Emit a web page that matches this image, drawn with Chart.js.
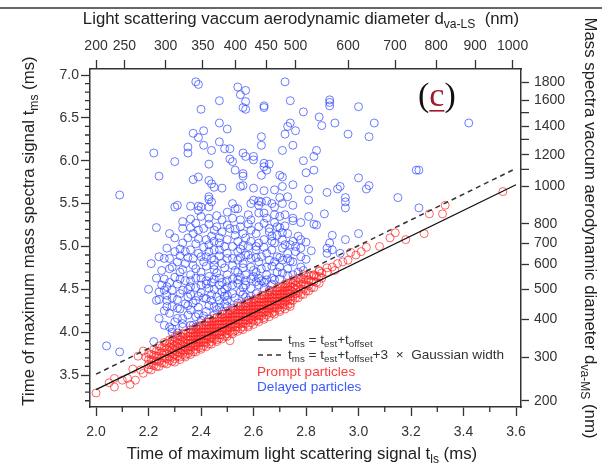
<!DOCTYPE html>
<html>
<head>
<meta charset="utf-8">
<title>t_ms vs t_ls</title>
<script src="https://cdn.jsdelivr.net/npm/chart.js@4.4.1/dist/chart.umd.min.js"></script>
<style>
  html, body { margin: 0; padding: 0; background: #fff; }
  canvas { display: block; }
</style>
</head>
<body>
<canvas id="chart" width="602" height="465"></canvas>
<script>
// bottom / left axes (ms)
const xMajor = [2.0, 2.2, 2.4, 2.6, 2.8, 3.0, 3.2, 3.4, 3.6];
const xMinor = [2.1, 2.3, 2.5, 2.7, 2.9, 3.1, 3.3, 3.5];
const yMajor = [3.5, 4.0, 4.5, 5.0, 5.5, 6.0, 6.5, 7.0];
const yMinor = [3.2, 3.3, 3.4, 3.6, 3.7, 3.8, 3.9, 4.1, 4.2, 4.3, 4.4, 4.6, 4.7, 4.8, 4.9,
                5.1, 5.2, 5.3, 5.4, 5.6, 5.7, 5.8, 5.9, 6.1, 6.2, 6.3, 6.4, 6.6, 6.7, 6.8, 6.9];

// top axis: d_va-LS (nm) labels and where they sit on the t_ls scale
const topTickLabels = ['200', '250', '300', '350', '400', '450', '500', '600', '700', '800', '900', '1000'];
const topTickPos = [2.0, 2.108, 2.265, 2.407, 2.531, 2.648, 2.760, 2.960, 3.139, 3.296, 3.444, 3.587];

// right axis: d_va-MS (nm) labels and where they sit on the t_ms scale
const rightTickLabels = ['200', '300', '400', '500', '600', '700', '800', '1000', '1200', '1400', '1600', '1800'];
const rightTickPos = [3.197, 3.71, 4.153, 4.503, 4.795, 5.04, 5.262, 5.705, 6.067, 6.40, 6.708, 6.918];
const rightMinorPos = [5.90, 6.25, 6.56];

// t_ms = t_est + t_offset  and  + 3 x Gaussian width
const fitX = [2.0, 3.6];
const fitY = [3.33, 5.72];
const fitDashY = [3.51, 5.91];

// prompt particles: the dense band, one column of t_ms values per t_ls
const promptBand = [
  [2.20, [3.57,3.62,3.68,3.75]], [2.21, [3.56,3.62,3.68,3.74]], [2.22, [3.61,3.67,3.73,3.80]],
  [2.23, [3.60,3.66,3.72,3.78]], [2.24, [3.60,3.66,3.72,3.78,3.84]], [2.25, [3.64,3.70,3.76,3.82]],
  [2.26, [3.64,3.70,3.76,3.82,3.88]], [2.27, [3.63,3.69,3.75,3.81,3.87]],
  [2.28, [3.67,3.72,3.77,3.82,3.87,3.91]], [2.29, [3.66,3.71,3.76,3.81,3.86,3.91]],
  [2.30, [3.65,3.69,3.74,3.79,3.84,3.89,3.94]], [2.31, [3.72,3.77,3.82,3.87,3.92,3.96]],
  [2.32, [3.68,3.71,3.76,3.81,3.86,3.91,3.96]], [2.33, [3.74,3.79,3.84,3.89,3.94,3.99]],
  [2.34, [3.71,3.73,3.78,3.83,3.88,3.93,3.98]],
  [2.35, [3.75,3.79,3.83,3.87,3.91,3.95,3.99]], [2.36, [3.74,3.79,3.83,3.87,3.91,3.95,3.99,4.03]],
  [2.37, [3.77,3.83,3.87,3.91,3.95,3.99,4.03]], [2.38, [3.77,3.80,3.84,3.88,3.92,3.96,4.00,4.04]],
  [2.39, [3.83,3.87,3.91,3.95,3.99,4.03,4.07]], [2.40, [3.80,3.82,3.88,3.92,3.96,4.00,4.04,4.08]],
  [2.41, [3.84,3.88,3.92,3.96,4.00,4.04,4.08]], [2.42, [3.83,3.88,3.92,3.96,4.00,4.04,4.08,4.12]],
  [2.43, [3.86,3.92,3.96,4.00,4.04,4.08,4.12]], [2.44, [3.86,3.89,3.93,3.97,4.01,4.05,4.09,4.13]],
  [2.45, [3.92,3.96,4.00,4.04,4.08,4.12,4.16]], [2.46, [3.89,3.91,3.97,4.01,4.05,4.09,4.13,4.17]],
  [2.47, [3.93,3.97,4.01,4.05,4.09,4.13,4.17]], [2.48, [3.92,3.97,4.01,4.05,4.09,4.13,4.17,4.21]],
  [2.49, [3.95,4.01,4.05,4.09,4.13,4.17,4.21]], [2.50, [3.95,3.98,4.02,4.06,4.10,4.14,4.18,4.22]],
  [2.51, [4.01,4.05,4.09,4.13,4.17,4.21,4.25]], [2.52, [3.98,4.00,4.06,4.10,4.14,4.18,4.22,4.26]],
  [2.53, [4.02,4.06,4.10,4.14,4.18,4.22,4.26]], [2.54, [4.01,4.06,4.10,4.14,4.18,4.22,4.26,4.30]],
  [2.55, [4.04,4.10,4.14,4.18,4.22,4.26,4.30]], [2.56, [4.03,4.06,4.10,4.14,4.18,4.22,4.26,4.30]],
  [2.57, [4.10,4.14,4.18,4.22,4.26,4.30,4.34]], [2.58, [4.06,4.08,4.14,4.18,4.22,4.26,4.30,4.34]],
  [2.59, [4.11,4.15,4.19,4.23,4.27,4.31,4.35]], [2.60, [4.09,4.14,4.18,4.22,4.26,4.30,4.34,4.38]],
  [2.61, [4.13,4.19,4.23,4.27,4.31,4.35,4.39]], [2.62, [4.12,4.15,4.19,4.23,4.27,4.31,4.35,4.39]],
  [2.63, [4.19,4.23,4.27,4.31,4.35,4.39,4.43]], [2.64, [4.15,4.17,4.23,4.27,4.31,4.35,4.39,4.43]],
  [2.65, [4.20,4.24,4.28,4.32,4.36,4.40,4.44]], [2.66, [4.18,4.23,4.27,4.31,4.35,4.39,4.43,4.47]],
  [2.67, [4.22,4.28,4.32,4.36,4.40,4.44,4.48]], [2.68, [4.21,4.24,4.28,4.32,4.36,4.40,4.44,4.48]],
  [2.69, [4.28,4.32,4.36,4.40,4.44,4.48,4.52]], [2.70, [4.24,4.26,4.32,4.36,4.40,4.44,4.48,4.52]],
  [2.71, [4.29,4.33,4.37,4.41,4.45,4.49,4.53]], [2.72, [4.27,4.32,4.36,4.40,4.44,4.48,4.52,4.56]],
  [2.73, [4.31,4.37,4.41,4.45,4.49,4.53,4.57]], [2.74, [4.30,4.33,4.37,4.41,4.45,4.49,4.53,4.57]],
  [2.75, [4.37,4.42,4.47,4.52,4.57,4.61]], [2.76, [4.40,4.45,4.50,4.55,4.60]],
  [2.77, [4.40,4.46,4.52,4.58,4.63]], [2.78, [4.44,4.50,4.56,4.62]],
  [2.79, [4.44,4.50,4.56,4.62,4.67]], [2.80, [4.48,4.55,4.61,4.66]],
  [2.81, [4.48,4.54,4.61,4.67]], [2.82, [4.52,4.59,4.66]], [2.83, [4.52,4.59,4.66]],
  [2.84, [4.58,4.65]], [2.85, [4.57,4.65,4.72]], [2.86, [4.63,4.69]]
];

// prompt particles away from the band
const promptSparse = [
  [2.00,3.29],[2.07,3.46],[2.07,3.36],[2.10,3.44],[2.12,3.46],[2.13,3.39],[2.14,3.57],[2.15,3.44],[2.16,3.72],
  [2.17,3.56],[2.18,3.52],[2.19,3.71],[2.18,3.78],[2.51,3.90],[2.05,3.41],
  [2.83,4.67],[2.85,4.71],[2.88,4.75],[2.90,4.76],[2.92,4.80],[2.94,4.82],[2.97,4.93],[3.01,4.94],
  [3.03,4.99],[3.08,5.00],[3.12,5.10],[3.14,5.16],[3.18,5.08],[3.25,5.15],[3.27,5.38],[3.32,5.38],
  [3.33,5.48],[3.55,5.64],[2.88,4.70],[2.91,4.72],[2.96,4.84],[2.99,4.90]
];

const delayedParticles = [
  [2.38,6.92],[2.39,6.89],[2.54,6.86],[2.57,6.82],[2.55,6.77],[2.72,6.92],[2.47,6.70],[2.57,6.69],[2.56,6.62],
  [2.57,6.60],[2.64,6.64],[2.64,6.62],[2.74,6.70],[2.40,6.60],[2.47,6.44],[2.50,6.37],[2.74,6.44],[2.73,6.40],
  [2.72,6.31],[2.76,6.35],[2.37,6.32],[2.39,6.27],[2.41,6.35],[2.63,6.28],[2.63,6.18],[2.22,6.09],[2.35,6.16],
  [2.35,6.09],[2.41,6.18],[2.44,6.12],[2.47,6.22],[2.49,6.14],[2.51,6.14],[2.71,6.12],[2.75,6.18],[2.30,5.99],
  [2.43,5.96],[2.51,6.02],[2.52,5.99],[2.53,5.89],[2.56,6.09],[2.57,6.05],[2.60,6.05],[2.60,6.01],[2.64,5.93],
  [2.64,5.97],[2.66,5.96],[2.65,5.89],[2.63,5.83],[2.56,5.85],[2.56,5.82],[2.70,5.83],[2.71,5.81],[2.24,5.82],
  [2.09,5.60],[2.37,5.78],[2.39,5.81],[2.43,5.77],[2.44,5.73],[2.45,5.69],[2.48,5.68],[2.55,5.70],[2.56,5.71],
  [2.60,5.68],[2.64,5.65],[2.68,5.66],[2.71,5.70],[2.75,5.72],[2.43,5.58],[2.43,5.55],[2.30,5.46],[2.31,5.48],
  [2.36,5.47],[2.39,5.47],[2.39,5.42],[2.52,5.50],[2.53,5.44],[2.59,5.50],[2.60,5.54],[2.62,5.53],[2.65,5.53],
  [2.67,5.50],[2.70,5.57],[2.73,5.58],[2.23,5.22],[2.33,5.29],[2.33,5.21],[2.38,5.27],[2.39,5.19],[2.37,5.15],
  [2.89,6.71],[2.89,6.68],[2.89,6.64],[3.00,6.63],[2.79,6.57],[2.85,6.51],[2.86,6.41],[2.91,6.44],[3.06,6.44],
  [2.96,6.31],[3.04,6.28],[3.42,6.44],[2.84,6.12],[2.83,6.05],[2.79,6.00],[2.80,5.86],[2.83,5.89],[3.22,5.89],
  [3.23,5.89],[3.00,5.80],[2.81,5.67],[2.88,5.63],[2.92,5.67],[2.93,5.70],[2.95,5.57],[3.03,5.67],[3.04,5.71],
  [3.15,5.57],[2.81,5.54],[2.95,5.45],[2.87,5.38],[3.23,5.45],[2.81,5.35],[2.78,5.28],[2.75,5.30],[2.83,5.26],
  [2.84,5.25],[3.00,5.15],[2.90,5.13],[2.89,5.04],[2.88,4.98],[2.90,4.96],[2.95,5.08],[2.93,4.92],
  [2.40,5.46],[2.43,5.46],[2.44,5.52],[2.54,5.44],[2.62,5.48],[2.68,5.46],[2.71,5.50],[2.75,5.48],[2.40,5.35],
  [2.43,5.33],[2.46,5.36],[2.48,5.31],[2.52,5.33],[2.55,5.31],[2.59,5.31],[2.62,5.39],[2.65,5.33],[2.70,5.35],
  [2.41,5.21],[2.45,5.19],[2.48,5.17],[2.51,5.21],[2.56,5.15],[2.59,5.19],[2.61,5.15],[2.66,5.17],[2.69,5.13],
  [2.73,5.15],[2.42,5.08],[2.45,5.06],[2.50,5.08],[2.54,5.06],[2.59,5.06],[2.62,5.04],[2.67,5.06],[2.71,5.08],
  [2.75,5.06],[2.30,4.94],[2.36,4.96],[2.39,4.92],[2.43,4.94],[2.47,4.96],[2.50,4.92],[2.54,4.94],[2.57,4.90],
  [2.61,4.96],[2.65,4.92],[2.69,4.88],[2.73,4.92],[2.76,4.94],[2.31,4.82],[2.34,4.80],[2.37,4.78],[2.41,4.82],
  [2.45,4.78],[2.48,4.80],[2.52,4.78],[2.56,4.80],[2.59,4.76],[2.62,4.82],[2.68,4.82],[2.71,4.84],[2.21,4.80],
  [2.32,4.70],[2.36,4.67],[2.40,4.70],[2.43,4.65],[2.46,4.69],[2.50,4.67],[2.54,4.70],[2.57,4.67],[2.61,4.70],
  [2.65,4.67],[2.69,4.70],[2.26,4.49],[2.29,4.49],[2.33,4.49],[2.36,4.53],[2.40,4.55],[2.43,4.51],[2.47,4.55],
  [2.50,4.53],[2.54,4.57],[2.57,4.55],[2.61,4.59],[2.65,4.61],[2.24,4.38],[2.27,4.37],[2.35,4.41],[2.38,4.37],
  [2.42,4.39],[2.46,4.41],[2.50,4.37],[2.54,4.34],[2.24,4.16],[2.31,4.16],[2.35,4.20],[2.38,4.18],[2.42,4.24],
  [2.46,4.26],[2.50,4.30],[2.28,4.06],[2.33,4.06],[2.37,4.08],
  [2.04,3.84],[2.09,3.77],[2.28,4.22],[2.31,4.28],[2.27,4.43],[2.32,4.45],[2.22,3.89],[2.29,4.04],[2.29,4.00],
  [2.31,3.99],[2.33,4.10],[2.36,4.26],[2.37,4.34],[2.40,4.14],[2.45,4.30],[2.47,4.37],[2.50,4.43],[2.57,4.41],
  [2.61,4.45],[2.36,4.08],[2.38,4.06],
  [2.63,5.52],[2.95,5.52],[2.64,5.39],[2.68,5.37],[2.72,5.37],[2.75,5.33],[2.62,5.23],[2.66,5.21],[2.69,5.23],
  [2.68,5.04],[2.72,5.02],[2.76,5.00],[2.88,4.92],[2.73,4.86],[2.75,4.82],[2.78,4.76],[2.79,4.72],[2.65,4.76],
  [2.71,4.69],[2.75,4.67],[2.62,4.63],[2.68,4.61],[2.64,4.51],[2.66,4.49],
  [2.26,4.62],[2.28,4.58],[2.30,4.64],[2.34,4.60],[2.38,4.63],[2.42,4.60],[2.45,4.62],[2.48,4.58],[2.52,4.62],
  [2.55,4.64],[2.59,4.62],[2.35,4.87],[2.40,4.88],[2.44,4.86],[2.47,4.89],[2.52,4.86],[2.55,4.87],[2.59,4.86],
  [2.63,4.88],[2.33,5.04],[2.38,5.03],[2.43,5.02],[2.47,5.04],[2.52,5.00],[2.56,5.01],[2.61,5.00],[2.40,4.46],
  [2.44,4.44],[2.48,4.47],[2.52,4.45],[2.55,4.47],[2.45,4.20],[2.48,4.24],[2.52,4.28],[2.55,4.31],[2.58,4.37],
  [2.43,4.15],[2.34,4.33],[2.29,4.30],[2.26,4.25],[2.25,4.55],[2.20,4.50],[2.28,4.74],[2.26,4.86],[2.30,5.10],
  [2.36,5.32],[2.46,5.23],[2.55,5.23],[2.58,5.37],[2.50,5.40],[2.68,5.28],[2.72,5.24],[2.77,5.12],[2.80,5.05],
  [2.82,4.95],[2.78,4.98],[2.80,4.85],[2.23,4.37],[2.24,4.47],
  [2.26,4.08],[2.30,4.12],[2.33,4.16],[2.39,4.21],[2.41,4.19],
  [2.27,4.30],[2.32,4.27],[2.35,4.31],[2.39,4.29],[2.43,4.31],[2.47,4.29],[2.49,4.33],
  [2.29,4.40],[2.31,4.38],[2.36,4.44],[2.39,4.42],[2.41,4.40],[2.44,4.37],[2.49,4.42],[2.53,4.40],[2.56,4.44],[2.59,4.42],
  [2.27,4.53],[2.31,4.56],[2.35,4.50],[2.38,4.52],[2.42,4.56],[2.45,4.50],[2.49,4.50],[2.52,4.55],[2.56,4.52],
  [2.59,4.51],[2.62,4.55],[2.64,4.58],[2.67,4.56],
  [2.23,4.63],[2.32,4.62],[2.36,4.60],[2.40,4.63],[2.44,4.58],[2.47,4.63],[2.50,4.60],[2.54,4.61],[2.57,4.60],
  [2.60,4.65],[2.63,4.60],[2.67,4.63],[2.70,4.62],[2.73,4.66],
  [2.25,4.72],[2.29,4.76],[2.33,4.73],[2.38,4.74],[2.42,4.77],[2.45,4.73],[2.49,4.75],[2.53,4.72],[2.56,4.75],
  [2.60,4.72],[2.63,4.74],[2.67,4.77],[2.70,4.76],[2.73,4.74],[2.77,4.70],
  [2.24,4.88],[2.28,4.86],[2.32,4.89],[2.37,4.86],[2.42,4.88],[2.45,4.84],[2.50,4.86],[2.54,4.84],[2.58,4.90],
  [2.61,4.87],[2.66,4.84],[2.70,4.87],[2.74,4.83],[2.78,4.88],
  [2.27,4.98],[2.32,4.97],[2.34,4.94],[2.41,4.99],[2.45,4.96],[2.49,5.00],[2.55,4.97],[2.58,5.00],[2.64,4.99],
  [2.67,4.96],[2.71,4.98],[2.74,5.02],
  [2.28,5.15],[2.35,5.10],[2.39,5.09],[2.44,5.12],[2.47,5.10],[2.53,5.13],[2.57,5.10],[2.64,5.08],[2.67,5.12],
  [2.71,5.16],[2.78,5.08],
  [2.36,5.22],[2.43,5.26],[2.50,5.25],[2.53,5.20],[2.58,5.26],[2.64,5.27],[2.70,5.22]
];

const xMin = 1.977, xMax = 3.619;
const yMin = 3.127, yMax = 7.07;

const sansFamily = "'Liberation Sans', Arial, Helvetica, sans-serif";
const tickFont = { family: sansFamily, size: 14 };
const ink = '#333';

const promptPoints = promptSparse.map(([x, y]) => ({ x, y }));
promptBand.forEach(([x, ys]) => ys.forEach(y => promptPoints.push({ x, y })));

function richText(ctx, parts, x, y, size, align, color) {
  const f = s => s + 'px ' + sansFamily;
  const widths = parts.map(p => {
    ctx.font = f(p[1] ? size * 0.72 : size);
    return ctx.measureText(p[0]).width;
  });
  const total = widths.reduce((a, b) => a + b, 0);
  let cx = align === 'center' ? x - total / 2 : x;
  ctx.fillStyle = color;
  ctx.textAlign = 'left';
  ctx.textBaseline = 'middle';
  parts.forEach((p, i) => {
    ctx.font = f(p[1] ? size * 0.72 : size);
    ctx.fillText(p[0], cx, p[1] ? y + size * 0.32 : y);
    cx += widths[i];
  });
}

const decor = {
  id: 'decor',
  afterDraw(chart) {
    const { ctx, chartArea: a, scales } = chart;
    ctx.save();

    // thin rule at the very top of the figure
    ctx.fillStyle = '#666';
    ctx.fillRect(0, 7, 602, 2);

    // minor ticks
    ctx.strokeStyle = ink;
    ctx.lineWidth = 1.3;
    ctx.beginPath();
    yMinor.forEach(v => {
      const p = scales.y.getPixelForValue(v);
      ctx.moveTo(a.left, p); ctx.lineTo(a.left - 5, p);
    });
    xMinor.forEach(v => {
      const p = scales.x.getPixelForValue(v);
      ctx.moveTo(p, a.bottom); ctx.lineTo(p, a.bottom + 5);
    });
    rightMinorPos.forEach(v => {
      const p = scales.yRight.getPixelForValue(v);
      ctx.moveTo(a.right, p); ctx.lineTo(a.right + 8, p);
    });
    ctx.stroke();

    // axis titles
    const ts = 16.8;
    richText(ctx, [['Time of maximum light scattering signal t', 0], ['ls', 1], [' (ms)', 0]],
      302, 454, ts, 'center', '#222');
    richText(ctx, [['Light scattering vaccum aerodynamic diameter d', 0], ['va-LS', 1], ['  (nm)', 0]],
      301, 19, ts, 'center', '#222');
    ctx.save();
    ctx.translate(29, 231);
    ctx.rotate(-Math.PI / 2);
    richText(ctx, [['Time of maximum mass spectra signal t', 0], ['ms', 1], [' (ms)', 0]],
      0, 0, ts, 'center', '#222');
    ctx.restore();
    ctx.save();
    ctx.translate(590, 228);
    ctx.rotate(Math.PI / 2);
    richText(ctx, [['Mass spectra vaccum aerodynamic diameter d', 0], ['va-MS', 1], [' (nm)', 0]],
      0, 0, ts, 'center', '#222');
    ctx.restore();

    // legend
    ctx.strokeStyle = '#111';
    ctx.lineWidth = 1.3;
    ctx.beginPath(); ctx.moveTo(258, 340); ctx.lineTo(282, 340); ctx.stroke();
    ctx.strokeStyle = '#333';
    ctx.lineWidth = 1.5;
    ctx.setLineDash([5, 4]);
    ctx.beginPath(); ctx.moveTo(258, 355); ctx.lineTo(282, 355); ctx.stroke();
    ctx.setLineDash([]);
    const ls = 13.6;
    richText(ctx, [['t', 0], ['ms', 1], [' = t', 0], ['est', 1], ['+t', 0], ['offset', 1]], 288, 340, ls, 'left', '#333');
    richText(ctx, [['t', 0], ['ms', 1], [' = t', 0], ['est', 1], ['+t', 0], ['offset', 1], ['+3  \u00d7  Gaussian width', 0]],
      288, 355, ls, 'left', '#333');
    richText(ctx, [['Prompt particles', 0]], 257, 372, ls, 'left', '#ff3b3b');
    richText(ctx, [['Delayed particles', 0]], 257, 387, ls, 'left', '#3b5bff');

    // panel tag (c)
    ctx.font = "34px 'Liberation Serif', 'Times New Roman', serif";
    ctx.textAlign = 'left';
    ctx.textBaseline = 'alphabetic';
    let cx = 418;
    ctx.fillStyle = '#111';
    ctx.fillText('(', cx, 106);
    cx += ctx.measureText('(').width;
    ctx.fillStyle = '#a0182c';
    ctx.fillText('c', cx, 106);
    const cw = ctx.measureText('c').width;
    ctx.fillRect(cx, 110, cw, 1.6);
    cx += cw;
    ctx.fillStyle = '#111';
    ctx.fillText(')', cx, 106);

    ctx.restore();
  }
};

new Chart(document.getElementById('chart'), {
  type: 'scatter',
  data: {
    datasets: [
      {
        label: 'tms = test + toffset',
        data: fitX.map((x, i) => ({ x, y: fitY[i] })),
        showLine: true, borderColor: '#111', borderWidth: 1.3, pointRadius: 0, order: 0
      },
      {
        label: 'tms = test + toffset + 3 x Gaussian width',
        data: fitX.map((x, i) => ({ x, y: fitDashY[i] })),
        showLine: true, borderColor: '#333', borderWidth: 1.5, borderDash: [5, 4], pointRadius: 0, order: 0
      },
      {
        label: 'Prompt particles',
        data: promptPoints,
        pointRadius: 4, borderWidth: 1,
        pointBackgroundColor: 'rgba(0,0,0,0)', pointBorderColor: 'rgba(255,30,30,0.68)', order: 1
      },
      {
        label: 'Delayed particles',
        data: delayedParticles.map(([x, y]) => ({ x, y })),
        pointRadius: 4, borderWidth: 1,
        pointBackgroundColor: 'rgba(0,0,0,0)', pointBorderColor: 'rgba(45,70,255,0.7)', order: 2
      }
    ]
  },
  options: {
    responsive: false,
    animation: false,
    layout: { padding: 0 },
    plugins: { legend: { display: false }, tooltip: { enabled: false } },
    scales: {
      x: {
        type: 'linear', position: 'bottom', min: xMin, max: xMax,
        afterFit: s => { s.height = 58; },
        afterBuildTicks: s => { s.ticks = xMajor.map(value => ({ value })); },
        ticks: { autoSkip: false, maxRotation: 0, padding: 8, font: tickFont, color: ink, callback: v => v.toFixed(1) },
        grid: { drawOnChartArea: false, tickLength: 9, color: ink, tickColor: ink, tickWidth: 1.3 },
        border: { color: ink, width: 1.5 }
      },
      xTop: {
        type: 'linear', position: 'top', min: xMin, max: xMax,
        afterFit: s => { s.height = 69; },
        afterBuildTicks: s => { s.ticks = topTickPos.map(value => ({ value })); },
        ticks: { autoSkip: false, maxRotation: 0, padding: 5, font: tickFont, color: ink, callback: (v, i) => topTickLabels[i] },
        grid: { drawOnChartArea: false, tickLength: 9, color: ink, tickColor: ink, tickWidth: 1.3 },
        border: { color: ink, width: 1.5 }
      },
      y: {
        type: 'linear', position: 'left', min: yMin, max: yMax,
        afterFit: s => { s.width = 90; },
        afterBuildTicks: s => { s.ticks = yMajor.map(value => ({ value })); },
        ticks: { autoSkip: false, padding: 2, font: tickFont, color: ink, callback: v => v.toFixed(1) },
        grid: { drawOnChartArea: false, tickLength: 9, color: ink, tickColor: ink, tickWidth: 1.3 },
        border: { color: ink, width: 1.5 }
      },
      yRight: {
        type: 'linear', position: 'right', min: yMin, max: yMax,
        afterFit: s => { s.width = 81; },
        afterBuildTicks: s => { s.ticks = rightTickPos.map(value => ({ value })); },
        ticks: { autoSkip: false, padding: 5, font: tickFont, color: ink, callback: (v, i) => rightTickLabels[i] },
        grid: { drawOnChartArea: false, tickLength: 8, color: ink, tickColor: ink, tickWidth: 1.3 },
        border: { color: ink, width: 1.5 }
      }
    }
  },
  plugins: [decor]
});
</script>
</body>
</html>
